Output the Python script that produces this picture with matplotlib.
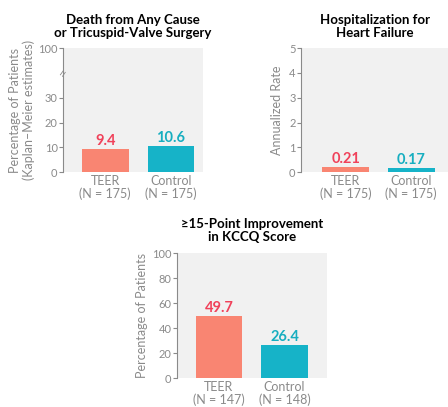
import matplotlib
matplotlib.use("Agg")
import matplotlib.pyplot as plt

plt.rcParams['font.family'] = ['Lato', 'DejaVu Sans']

groups = ["TEER", "Control"]
death_n = ["(N = 175)", "(N = 175)"]
death_vals = [9.4, 10.6]
hosp_n = ["(N = 175)", "(N = 175)"]
hosp_vals = [0.21, 0.17]
kccq_n = ["(N = 147)", "(N = 148)"]
kccq_vals = [49.7, 26.4]

bar_colors = ["#f98572", "#16b3c8"]
label_colors = ["#f0415a", "#17aec0"]
gray = "#8a8a8a"
panel_bg = "#f1f1f1"


def style_axes(ax, xlim):
    ax.set_facecolor(panel_bg)
    for s in ["top", "right", "bottom"]:
        ax.spines[s].set_visible(False)
    ax.spines["left"].set_color(gray)
    ax.spines["left"].set_linewidth(0.8)
    ax.tick_params(axis="y", colors=gray, labelsize=8, length=3, width=0.8, pad=1)
    ax.tick_params(axis="x", length=0, labelsize=9, labelcolor=gray, pad=2)
    ax.set_xlim(*xlim)


def draw_bars(ax, vals, ns, offset, fmt):
    x = range(len(vals))
    ax.bar(x, vals, width=0.71, color=bar_colors)
    for i, v in enumerate(vals):
        ax.text(i, v + offset, fmt.format(v), ha="center", va="bottom",
                color=label_colors[i], fontsize=10.5, fontweight="bold")
    ax.set_xticks(list(x))
    ax.set_xticklabels([f"{g}\n{n}" for g, n in zip(groups, ns)], linespacing=1.05)


fig = plt.figure(figsize=(4.48, 4.07), dpi=100)

# panel 1: broken axis, 100 shown at position 50
ax1 = fig.add_axes([0.141, 0.577, 0.3125, 0.305])
style_axes(ax1, (-0.64, 1.49))
draw_bars(ax1, death_vals, death_n, 0.5, "{:.1f}")
ax1.set_ylim(0, 50)
ax1.set_yticks([0, 10, 20, 30, 50])
ax1.set_yticklabels(["0", "10", "20", "30", "100"])
ax1.plot([-0.02, 0.0], [39.2, 40.8], transform=ax1.get_yaxis_transform(),
         color=gray, lw=0.6, clip_on=False)
ax1.plot([-0.005, 0.015], [38.6, 40.2], transform=ax1.get_yaxis_transform(),
         color=gray, lw=0.6, clip_on=False)
ax1.set_ylabel("Percentage of Patients\n(Kaplan\u2013Meier estimates)",
               color=gray, fontsize=9, linespacing=1.15, labelpad=2)
ax1.set_title("Death from Any Cause\nor Tricuspid-Valve Surgery",
              fontsize=9.5, fontweight="bold", linespacing=1.1, pad=8)

# panel 2
ax2 = fig.add_axes([0.672, 0.577, 0.328, 0.305])
style_axes(ax2, (-0.68, 1.56))
draw_bars(ax2, hosp_vals, hosp_n, 0.05, "{:.2f}")
ax2.set_ylim(0, 5)
ax2.set_yticks([0, 1, 2, 3, 4, 5])
ax2.set_ylabel("Annualized Rate", color=gray, fontsize=9, labelpad=4)
ax2.set_title("Hospitalization for\nHeart Failure",
              fontsize=9.5, fontweight="bold", linespacing=1.1, pad=8)

# panel 3
ax3 = fig.add_axes([0.395, 0.071, 0.335, 0.307])
style_axes(ax3, (-0.64, 1.65))
draw_bars(ax3, kccq_vals, kccq_n, 1.0, "{:.1f}")
ax3.set_ylim(0, 100)
ax3.set_yticks([0, 20, 40, 60, 80, 100])
ax3.set_ylabel("Percentage of Patients", color=gray, fontsize=9, labelpad=3)
ax3.set_title("\u226515-Point Improvement\nin KCCQ Score",
              fontsize=9.5, fontweight="bold", linespacing=1.1, pad=9)

fig.savefig("out.png", dpi=100, facecolor="white")
